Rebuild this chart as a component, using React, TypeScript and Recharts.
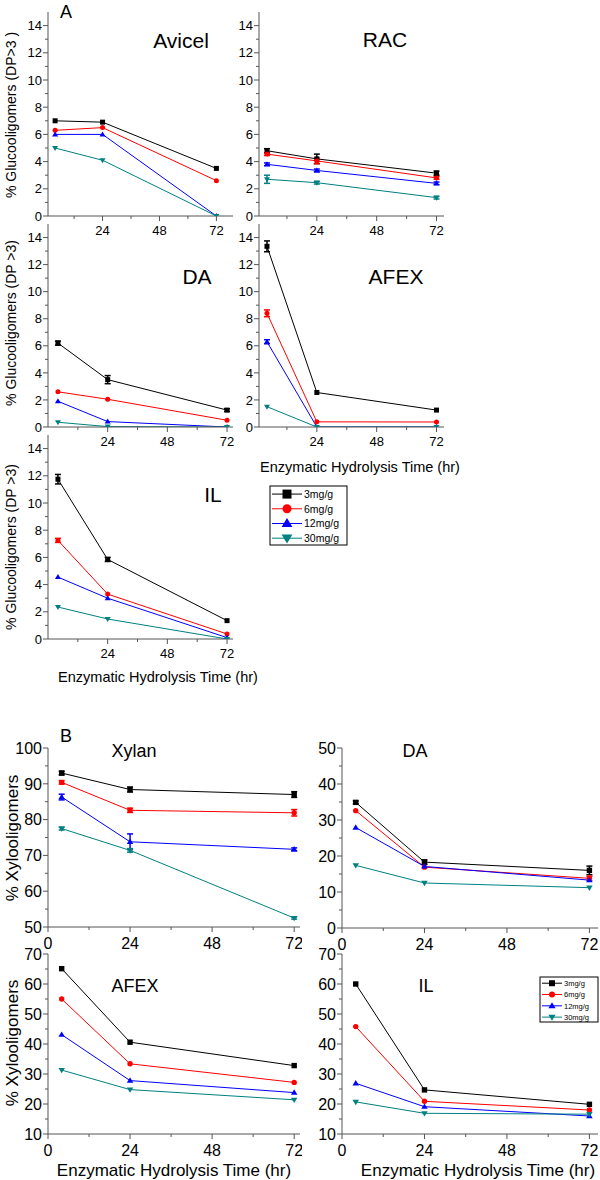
import React from "react";
import { LineChart, Line, XAxis, YAxis, ErrorBar } from "recharts";

const times = [4, 24, 72];
const doses = ["3mg/g", "6mg/g", "12mg/g", "30mg/g"];
const colors = ["#000000", "#ff0000", "#0000ff", "#008080"];

// A: % glucooligomers (DP>3), rows = 3, 6, 12, 30 mg/g
const avicelA = [[7.0, 6.9, 3.5], [6.3, 6.5, 2.6], [6.0, 6.0, 0], [5.0, 4.1, 0]];
const racA = [[4.8, 4.2, 3.15], [4.55, 4.05, 2.8], [3.8, 3.35, 2.4], [2.7, 2.45, 1.35]];
const daA = [[6.2, 3.5, 1.25], [2.6, 2.05, 0.5], [1.9, 0.4, 0], [0.35, 0.03, 0]];
const afexA = [[13.35, 2.55, 1.25], [8.4, 0.38, 0.37], [6.3, 0, 0], [1.5, 0, 0]];
const ilA = [[11.75, 5.85, 1.35], [7.25, 3.3, 0.37], [4.55, 3.0, 0.1], [2.35, 1.47, 0]];

const racErr = [[0.15, 0.35, 0.15], [0.1, 0.2, 0.1], [0.1, 0.1, 0.1], [0.3, 0.1, 0.1]];
const daErrA = [[0.15, 0.3, 0.1], [0, 0, 0], [0, 0, 0], [0, 0, 0]];
const afexErrA = [[0.4, 0, 0], [0.25, 0, 0], [0.15, 0, 0], [0, 0, 0]];
const ilErrA = [[0.35, 0.15, 0], [0.15, 0, 0], [0, 0, 0], [0, 0, 0]];

// B: % xylooligomers
const xylanB = [[93.0, 88.4, 87.0], [90.4, 82.6, 81.9], [86.3, 73.8, 71.7], [77.5, 71.4, 52.5]];
const daB = [[34.9, 18.3, 16.0], [32.6, 16.9, 13.8], [27.9, 17.1, 13.3], [17.4, 12.5, 11.2]];
const afexB = [[65.1, 40.6, 32.8], [55.0, 33.4, 27.2], [43.1, 27.8, 23.8], [31.3, 24.8, 21.4]];
const ilB = [[60.0, 24.7, 19.9], [45.8, 20.9, 18.0], [26.9, 19.1, 16.0], [20.7, 16.9, 16.6]];

const xylanErr = [[0.5, 0.7, 0.8], [0.5, 0.6, 0.9], [0.8, 2.2, 0.4], [0.4, 0.5, 0.3]];
const daErrB = [[0.4, 0.6, 1.2], [0, 0, 0.6], [0, 0, 0], [0, 0, 0]];

const FONT = "'Liberation Sans', Arial, Helvetica, sans-serif";
const AXIS = "#555";
const TOP = 12;

function marker(kind: number, cx: number, cy: number, r: number, color: string) {
  if (kind === 0) return <rect x={cx - r} y={cy - r} width={2 * r} height={2 * r} fill={color} />;
  if (kind === 1) return <circle cx={cx} cy={cy} r={r} fill={color} />;
  if (kind === 2)
    return <polygon points={`${cx},${cy - r * 1.2} ${cx - r * 1.2},${cy + r * 0.8} ${cx + r * 1.2},${cy + r * 0.8}`} fill={color} />;
  return <polygon points={`${cx},${cy + r * 1.2} ${cx - r * 1.2},${cy - r * 0.8} ${cx + r * 1.2},${cy - r * 0.8}`} fill={color} />;
}

type PanelProps = {
  px0: number;
  px1: number;
  py0: number;
  py1: number;
  xDomain: [number, number];
  yDomain: [number, number];
  yTicks: number[];
  yStep: number;
  xTicks: number[];
  series: number[][];
  errors?: number[][];
  font: number;
  r: number;
};

function Panel(p: PanelProps) {
  const data = times.map((t, i) => {
    const row: Record<string, number> = { t };
    p.series.forEach((s, k) => {
      row["s" + k] = s[i];
      row["e" + k] = p.errors ? p.errors[k][i] : 0;
    });
    return row;
  });
  const W = p.px1 - p.px0 + 42;
  const H = p.py1 - p.py0 + TOP + 30;

  const xTick = (props: any) => {
    const v = props.payload.value;
    const major = v % 24 === 0;
    return (
      <g>
        <line x1={props.x} x2={props.x} y1={props.y} y2={props.y + (major ? 5 : 3)} stroke={AXIS} />
        {major && (
          <text x={props.x} y={props.y + 6 + p.font} textAnchor="middle" fontSize={p.font} fontFamily={FONT} fill="#000">
            {v}
          </text>
        )}
      </g>
    );
  };
  const yTick = (props: any) => {
    const v = props.payload.value;
    const major = Math.abs(v % p.yStep) < 1e-6;
    return (
      <g>
        <line x1={props.x} x2={props.x - (major ? 5 : 3)} y1={props.y} y2={props.y} stroke={AXIS} />
        {major && (
          <text x={props.x - 6} y={props.y + p.font * 0.36} textAnchor="end" fontSize={p.font} fontFamily={FONT} fill="#000">
            {v}
          </text>
        )}
      </g>
    );
  };

  return (
    <div style={{ position: "absolute", left: p.px0 - 40, top: p.py0 - TOP }}>
      <LineChart width={W} height={H} data={data} margin={{ top: TOP, right: 2, left: 0, bottom: 0 }}>
        <XAxis
          type="number"
          dataKey="t"
          domain={p.xDomain}
          ticks={p.xTicks}
          interval={0}
          allowDataOverflow
          height={30}
          tickSize={0}
          tickMargin={0}
          tickLine={false}
          axisLine={{ stroke: AXIS }}
          tick={xTick}
        />
        <YAxis
          type="number"
          domain={p.yDomain}
          ticks={p.yTicks}
          interval={0}
          allowDataOverflow
          width={40}
          tickSize={0}
          tickMargin={0}
          tickLine={false}
          axisLine={{ stroke: AXIS }}
          tick={yTick}
        />
        {p.series.map((_, k) => (
          <Line
            key={k}
            dataKey={"s" + k}
            stroke={colors[k]}
            strokeWidth={1}
            isAnimationActive={false}
            dot={(d: any) => <g key={d.index}>{marker(k, d.cx, d.cy, p.r, colors[k])}</g>}
            activeDot={false}
          >
            {p.errors && <ErrorBar dataKey={"e" + k} width={3} stroke={colors[k]} direction="y" />}
          </Line>
        ))}
      </LineChart>
    </div>
  );
}

const range = (a: number, b: number, s: number) => {
  const out: number[] = [];
  for (let v = a; v <= b + 1e-9; v += s) out.push(v);
  return out;
};

const aY = range(0, 14, 1);
const aX = [12, 24, 36, 48, 60, 72];
const bX = [0, 12, 24, 36, 48, 60, 72];

function Legend({ x, y, w, h, font, r, dy, lineLen }: { x: number; y: number; w: number; h: number; font: number; r: number; dy: number; lineLen: number }) {
  return (
    <g>
      <rect x={x} y={y} width={w} height={h} fill="#fff" stroke="#000" strokeWidth={1} />
      {doses.map((d, k) => {
        const cy = y + dy * 0.55 + k * dy;
        const lx = x + 2;
        return (
          <g key={d}>
            <line x1={lx} x2={lx + lineLen} y1={cy} y2={cy} stroke={colors[k]} />
            {marker(k, lx + lineLen / 2, cy, r, colors[k])}
            <text x={lx + lineLen + 2} y={cy + font * 0.36} fontSize={font} fontFamily={FONT}>
              {d}
            </text>
          </g>
        );
      })}
    </g>
  );
}

function Label({ x, y, size, children, rotate }: { x: number; y: number; size: number; children: React.ReactNode; rotate?: boolean }) {
  return (
    <text
      x={x}
      y={y}
      fontSize={size}
      fontFamily={FONT}
      textAnchor="middle"
      dominantBaseline="central"
      transform={rotate ? `rotate(-90 ${x} ${y})` : undefined}
    >
      {children}
    </text>
  );
}

export default function App() {
  return (
    <div style={{ position: "absolute", left: 0, top: 0, width: 600, height: 1180, background: "#fff", overflow: "hidden" }}>
      <Panel px0={48} px1={233} py0={12} py1={216} xDomain={[1, 79]} yDomain={[0, 15]} yTicks={aY} yStep={2} xTicks={aX} series={avicelA} font={13} r={2.5} />
      <Panel px0={259} px1={444} py0={12} py1={216} xDomain={[0.8, 75]} yDomain={[0, 15]} yTicks={aY} yStep={2} xTicks={aX} series={racA} errors={racErr} font={13} r={2.5} />
      <Panel px0={48} px1={233} py0={224} py1={427} xDomain={[0, 74.4]} yDomain={[0, 15]} yTicks={aY} yStep={2} xTicks={aX} series={daA} errors={daErrA} font={13} r={2.5} />
      <Panel px0={259} px1={444} py0={224} py1={427} xDomain={[0.8, 75]} yDomain={[0, 15]} yTicks={aY} yStep={2} xTicks={aX} series={afexA} errors={afexErrA} font={13} r={2.5} />
      <Panel px0={48} px1={233} py0={435} py1={639} xDomain={[0, 74.4]} yDomain={[0, 15]} yTicks={aY} yStep={2} xTicks={aX} series={ilA} errors={ilErrA} font={13} r={2.5} />

      <Panel px0={48} px1={300} py0={748} py1={927} xDomain={[0, 73.7]} yDomain={[50, 100]} yTicks={range(50, 100, 5)} yStep={10} xTicks={bX} series={xylanB} errors={xylanErr} font={16} r={2.7} />
      <Panel px0={342} px1={598} py0={748} py1={928} xDomain={[0, 74.5]} yDomain={[0, 50]} yTicks={range(0, 50, 5)} yStep={10} xTicks={bX} series={daB} errors={daErrB} font={16} r={2.7} />
      <Panel px0={48} px1={300} py0={954} py1={1134} xDomain={[0, 73.7]} yDomain={[10, 70]} yTicks={range(10, 70, 5)} yStep={10} xTicks={bX} series={afexB} font={16} r={2.7} />
      <Panel px0={342} px1={598} py0={954} py1={1134} xDomain={[0, 74.5]} yDomain={[10, 70]} yTicks={range(10, 70, 5)} yStep={10} xTicks={bX} series={ilB} font={16} r={2.7} />

      <svg width={600} height={1180} style={{ position: "absolute", left: 0, top: 0, pointerEvents: "none" }}>
        <Label x={66} y={12} size={18}>A</Label>
        <Label x={181} y={40} size={21}>Avicel</Label>
        <Label x={385} y={39} size={21}>RAC</Label>
        <Label x={197} y={276} size={21}>DA</Label>
        <Label x={396} y={276} size={21}>AFEX</Label>
        <Label x={213} y={494} size={21}>IL</Label>

        <Label x={11} y={115} size={14} rotate>% Glucooligomers (DP&gt;3 )</Label>
        <Label x={11} y={323} size={14} rotate>% Glucooligomers (DP &gt;3)</Label>
        <Label x={11} y={547} size={14} rotate>% Glucooligomers (DP &gt;3)</Label>
        <Label x={360} y={467} size={14.5}>Enzymatic Hydrolysis Time (hr)</Label>
        <Label x={158} y={677} size={14.5}>Enzymatic Hydrolysis Time (hr)</Label>
        <Legend x={270} y={486} w={77} h={59} font={10.5} r={4.5} dy={14.7} lineLen={30} />

        <Label x={66} y={736} size={18}>B</Label>
        <Label x={134} y={751} size={18}>Xylan</Label>
        <Label x={415} y={751} size={18}>DA</Label>
        <Label x={135} y={986} size={18}>AFEX</Label>
        <Label x={426} y={986} size={18}>IL</Label>
        <Label x={12} y={838} size={17} rotate>% Xylooligomers</Label>
        <Label x={12} y={1043} size={17} rotate>% Xylooligomers</Label>
        <Label x={174} y={1170} size={17}>Enzymatic Hydrolysis Time (hr)</Label>
        <Label x={478} y={1170} size={17}>Enzymatic Hydrolysis Time (hr)</Label>
        <Legend x={540} y={977} w={58} h={45} font={7.5} r={3} dy={11.3} lineLen={20} />
      </svg>
    </div>
  );
}
